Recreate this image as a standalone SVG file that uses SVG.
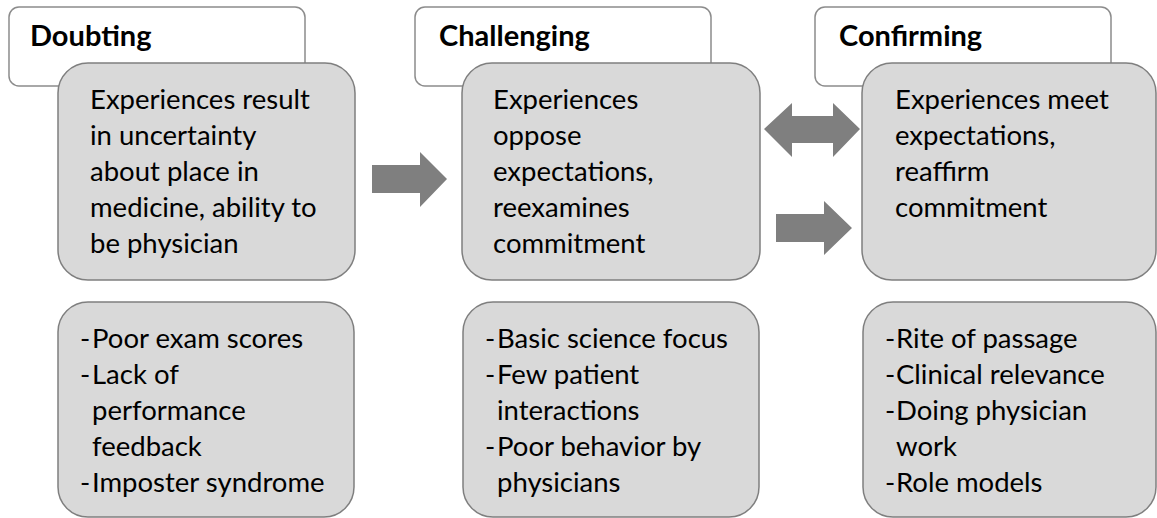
<svg xmlns="http://www.w3.org/2000/svg" width="1157" height="518" viewBox="0 0 1157 518">
  <defs>
    <style>
      .hdr { fill: #ffffff; stroke: #8c8c8c; stroke-width: 1.5; }
      .box { fill: #d9d9d9; stroke: #7f7f7f; stroke-width: 1.5; }
      .arrow { fill: #7f7f7f; }
      .title { font-family: Lato, "Liberation Sans", sans-serif; font-weight: bold; font-size: 29px; fill: #000000; }
      .body { font-family: Lato, "Liberation Sans", sans-serif; font-size: 27.5px; fill: #000000; }
    </style>
  </defs>
  <rect width="1157" height="518" fill="#ffffff"/>

  <!-- Stage 1: Doubting -->
  <g id="doubting">
    <rect class="hdr" x="9" y="7" width="296" height="79" rx="10"/>
    <text class="title" x="30" y="46">Doubting</text>
    <rect class="box" x="58" y="63" width="297" height="217" rx="30"/>
    <text class="body">
      <tspan x="90" y="109">Experiences result</tspan>
      <tspan x="90" y="145">in uncertainty</tspan>
      <tspan x="90" y="181">about place in</tspan>
      <tspan x="90" y="217">medicine, ability to</tspan>
      <tspan x="90" y="253">be physician</tspan>
    </text>
  </g>
  <g id="doubting-factors">
    <rect class="box" x="58" y="302" width="296" height="215" rx="30"/>
    <text class="body">
      <tspan x="80" y="348">-</tspan><tspan x="92" y="348">Poor exam scores</tspan>
      <tspan x="80" y="384">-</tspan><tspan x="92" y="384">Lack of</tspan>
      <tspan x="92" y="420">performance</tspan>
      <tspan x="92" y="456">feedback</tspan>
      <tspan x="80" y="492">-</tspan><tspan x="92" y="492">Imposter syndrome</tspan>
    </text>
  </g>

  <!-- Stage 2: Challenging -->
  <g id="challenging">
    <rect class="hdr" x="415" y="7" width="296" height="79" rx="10"/>
    <text class="title" x="439" y="46">Challenging</text>
    <rect class="box" x="462" y="63" width="298" height="217" rx="30"/>
    <text class="body">
      <tspan x="493" y="109">Experiences</tspan>
      <tspan x="493" y="145">oppose</tspan>
      <tspan x="493" y="181">expectations,</tspan>
      <tspan x="493" y="217">reexamines</tspan>
      <tspan x="493" y="253">commitment</tspan>
    </text>
  </g>
  <g id="challenging-factors">
    <rect class="box" x="463" y="302" width="296" height="215" rx="30"/>
    <text class="body">
      <tspan x="485" y="348">-</tspan><tspan x="497" y="348">Basic science focus</tspan>
      <tspan x="485" y="384">-</tspan><tspan x="497" y="384">Few patient</tspan>
      <tspan x="497" y="420">interactions</tspan>
      <tspan x="485" y="456">-</tspan><tspan x="497" y="456">Poor behavior by</tspan>
      <tspan x="497" y="492">physicians</tspan>
    </text>
  </g>

  <!-- Stage 3: Confirming -->
  <g id="confirming">
    <rect class="hdr" x="815" y="7" width="296" height="79" rx="10"/>
    <text class="title" x="839" y="46">Confirming</text>
    <rect class="box" x="862" y="63" width="294" height="217" rx="30"/>
    <text class="body">
      <tspan x="895" y="109">Experiences meet</tspan>
      <tspan x="895" y="145">expectations,</tspan>
      <tspan x="895" y="181">reaffirm</tspan>
      <tspan x="895" y="217">commitment</tspan>
    </text>
  </g>
  <g id="confirming-factors">
    <rect class="box" x="863" y="302" width="293" height="215" rx="30"/>
    <text class="body">
      <tspan x="885" y="348">-</tspan><tspan x="896" y="348">Rite of passage</tspan>
      <tspan x="885" y="384">-</tspan><tspan x="896" y="384">Clinical relevance</tspan>
      <tspan x="885" y="420">-</tspan><tspan x="896" y="420">Doing physician</tspan>
      <tspan x="896" y="456">work</tspan>
      <tspan x="885" y="492">-</tspan><tspan x="896" y="492">Role models</tspan>
    </text>
  </g>

  <!-- Block arrows between stages -->
  <g id="connectors">
    <polygon class="arrow" points="372,165 420,165 420,152 447,179 420,207 420,193 372,193"/>
    <polygon class="arrow" points="764,129 792,103 792,116 833,116 833,103 860,129 833,157 833,143 792,143 792,157"/>
    <polygon class="arrow" points="776,214 824,214 824,201 852,228 824,255 824,242 776,242"/>
  </g>
</svg>
